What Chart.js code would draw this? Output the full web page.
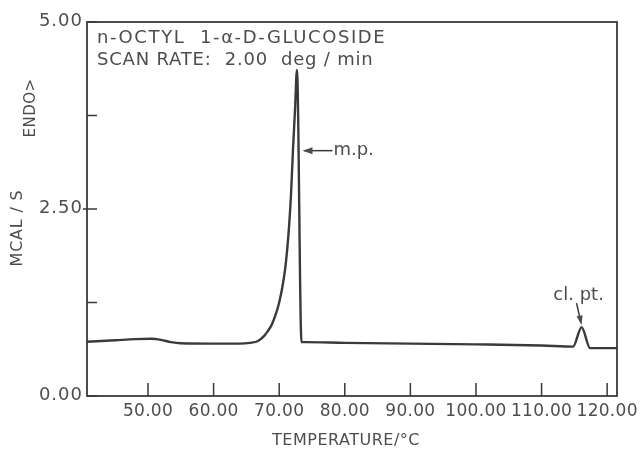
<!DOCTYPE html>
<html>
<head>
<meta charset="utf-8">
<script src="https://cdn.jsdelivr.net/npm/chart.js@4"></script>
<style>
  html, body { margin: 0; padding: 0; background: #fff; }
  #wrap { width: 642px; height: 449px; }
</style>
</head>
<body>
<div id="wrap"><canvas id="dsc"></canvas></div>
<script>
// DSC trace
const temperature = [40.7, 45, 48, 50.5, 52, 53.5, 55, 60, 64, 65.55, 66.77, 67.68, 68.29, 68.9, 69.51, 69.97, 70.43, 70.88, 71.19, 71.49, 71.8, 72.1, 72.41, 72.71, 73.4, 74, 80, 90, 100, 110, 114.8, 116.1, 117.4, 119, 121.5];
const heatFlow = [0.725, 0.745, 0.76, 0.765, 0.75, 0.72, 0.705, 0.70, 0.70, 0.71, 0.735, 0.80, 0.87, 0.96, 1.10, 1.24, 1.43, 1.68, 1.93, 2.25, 2.69, 3.29, 3.82, 4.36, 0.72, 0.72, 0.71, 0.70, 0.69, 0.675, 0.66, 0.92, 0.64, 0.64, 0.64];

const xTicks = [50, 60, 70, 80, 90, 100, 110, 120];
const yTicks = [0, 1.25, 2.5, 3.75, 5];
const yLabelled = [0, 2.5, 5];

const INK = '#3a3a3a';
const TXT = '#4d4d4d';
const FONT = '"DejaVu Sans", sans-serif';

function spaced(ctx, str, x, y, spacing) {
    ctx.letterSpacing = spacing + 'px';
    ctx.fillText(str, x, y);
    ctx.letterSpacing = '0px';
}

const frame = {
    id: 'frame',
    afterDraw(chart) {
        const { ctx, chartArea: a, scales: { x, y } } = chart;
        ctx.save();
        ctx.strokeStyle = INK;
        ctx.lineWidth = 1.8;
        ctx.strokeRect(a.left, a.top, a.right - a.left, a.bottom - a.top);

        // inward ticks
        ctx.lineWidth = 1.5;
        ctx.beginPath();
        xTicks.forEach(v => {
            const px = x.getPixelForValue(v);
            ctx.moveTo(px, a.bottom);
            ctx.lineTo(px, a.bottom - 13);
        });
        yTicks.forEach(v => {
            const py = y.getPixelForValue(v);
            ctx.moveTo(a.left, py);
            ctx.lineTo(a.left + 10, py);
            if (v === 2.5) { ctx.moveTo(a.left - 4, py); ctx.lineTo(a.left, py); }
        });
        ctx.stroke();

        ctx.fillStyle = TXT;
        ctx.textBaseline = 'middle';

        // tick labels
        ctx.font = '17px ' + FONT;
        ctx.textAlign = 'center';
        xTicks.forEach(v => spaced(ctx, v.toFixed(2), x.getPixelForValue(v), a.bottom + 16, 0.3));
        ctx.font = '18px ' + FONT;
        ctx.textAlign = 'right';
        yLabelled.forEach(v => spaced(ctx, v.toFixed(2), a.left - 4, y.getPixelForValue(v) - 1, 1));

        // sample caption
        ctx.textAlign = 'left';
        ctx.font = '18px ' + FONT;
        spaced(ctx, 'n-OCTYL  1-α-D-GLUCOSIDE', a.left + 10, 38, 1.6);
        spaced(ctx, 'SCAN RATE:  2.00  deg / min', a.left + 10, 60, 0.8);

        // axis titles
        ctx.font = '16px ' + FONT;
        ctx.textAlign = 'center';
        spaced(ctx, 'TEMPERATURE/°C', 346, 441, 0.5);

        ctx.save();
        ctx.rotate(-Math.PI / 2);
        ctx.font = '16px ' + FONT;
        spaced(ctx, 'MCAL / S', -228, 18, 0.8);
        ctx.font = '15px ' + FONT;
        spaced(ctx, 'ENDO>', -108, 31, 0.5);
        ctx.restore();

        // m.p. arrow
        const mpX = x.getPixelForValue(73.4), mpY = y.getPixelForValue(3.28);
        ctx.lineWidth = 1.5;
        ctx.beginPath();
        ctx.moveTo(mpX + 3, mpY);
        ctx.lineTo(mpX + 31, mpY);
        ctx.stroke();
        ctx.beginPath();
        ctx.moveTo(mpX + 1, mpY);
        ctx.lineTo(mpX + 11, mpY - 3.5);
        ctx.lineTo(mpX + 11, mpY + 3.5);
        ctx.closePath();
        ctx.fill();
        ctx.font = '18px ' + FONT;
        ctx.textAlign = 'left';
        ctx.fillText('m.p.', mpX + 32, mpY);

        // cl. pt. arrow
        const cpX = x.getPixelForValue(116.1), cpY = y.getPixelForValue(0.92);
        ctx.beginPath();
        ctx.moveTo(cpX - 5, cpY - 24);
        ctx.lineTo(cpX - 1, cpY - 6);
        ctx.stroke();
        ctx.beginPath();
        ctx.moveTo(cpX, cpY - 2);
        ctx.lineTo(cpX - 5, cpY - 11);
        ctx.lineTo(cpX + 1, cpY - 12);
        ctx.closePath();
        ctx.fill();
        ctx.textAlign = 'center';
        ctx.fillText('cl. pt.', cpX - 3, cpY - 32);
        ctx.restore();
    }
};

new Chart(document.getElementById('dsc'), {
    type: 'line',
    data: {
        datasets: [{
            data: temperature.map((t, i) => ({ x: t, y: heatFlow[i] })),
            borderColor: INK,
            borderWidth: 2.4,
            pointRadius: 0,
            cubicInterpolationMode: 'monotone',
            fill: false
        }]
    },
    options: {
        responsive: true,
        maintainAspectRatio: false,
        animation: false,
        layout: { padding: { top: 22, right: 25, left: 0, bottom: 0 } },
        plugins: { legend: { display: false }, tooltip: { enabled: false } },
        scales: {
            x: {
                type: 'linear',
                min: 40.7,
                max: 121.5,
                afterBuildTicks: s => { s.ticks = xTicks.map(v => ({ value: v })); },
                afterFit: s => { s.height = 53; },
                grid: { display: false },
                border: { display: false },
                ticks: { display: false }
            },
            y: {
                min: 0,
                max: 5,
                afterBuildTicks: s => { s.ticks = yTicks.map(v => ({ value: v })); },
                afterFit: s => { s.width = 87; },
                grid: { display: false },
                border: { display: false },
                ticks: { display: false }
            }
        }
    },
    plugins: [frame]
});
</script>
</body>
</html>
